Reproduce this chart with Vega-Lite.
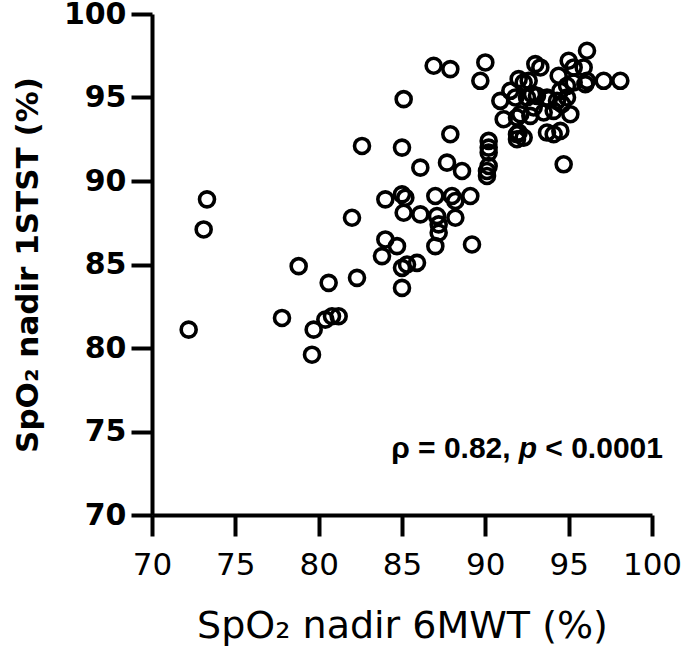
{
  "$schema": "https://vega.github.io/schema/vega-lite/v6.json",
  "width": 500,
  "height": 501,
  "autosize": "none",
  "padding": {"left": 152, "top": 14, "right": 33, "bottom": 138},
  "background": "white",
  "config": {
    "view": {"stroke": null},
    "font": "DejaVu Sans",
    "axis": {"grid": false, "domainColor": "#000", "tickColor": "#000", "labelColor": "#000", "titleColor": "#000", "domainWidth": 4, "tickWidth": 4, "tickSize": 21, "labelFont": "DejaVu Sans", "titleFont": "DejaVu Sans", "labelFlush": false, "labelOverlap": false}
  },
  "datasets": {
    "pts": [
      {"x": 72.2, "y": 81.1}, {"x": 73.1, "y": 87.1}, {"x": 73.3, "y": 88.9}, {"x": 77.8, "y": 81.8},
      {"x": 78.8, "y": 84.9}, {"x": 79.6, "y": 79.6}, {"x": 79.7, "y": 81.1}, {"x": 80.4, "y": 81.7},
      {"x": 80.8, "y": 81.9}, {"x": 81.2, "y": 81.9}, {"x": 80.6, "y": 83.9}, {"x": 82.0, "y": 87.8},
      {"x": 82.3, "y": 84.2}, {"x": 82.6, "y": 92.1}, {"x": 84.0, "y": 88.9}, {"x": 84.0, "y": 86.5},
      {"x": 83.8, "y": 85.5}, {"x": 84.7, "y": 86.1}, {"x": 85.0, "y": 89.2}, {"x": 85.2, "y": 89.0},
      {"x": 85.1, "y": 88.1}, {"x": 85.0, "y": 84.8}, {"x": 85.3, "y": 85.0}, {"x": 85.0, "y": 83.6},
      {"x": 85.0, "y": 92.0}, {"x": 85.1, "y": 94.9}, {"x": 85.9, "y": 85.1}, {"x": 86.1, "y": 88.0},
      {"x": 86.1, "y": 90.8}, {"x": 86.9, "y": 96.9}, {"x": 87.9, "y": 96.7}, {"x": 87.0, "y": 89.1},
      {"x": 87.1, "y": 87.9}, {"x": 87.2, "y": 87.4}, {"x": 87.2, "y": 86.9}, {"x": 87.0, "y": 86.1},
      {"x": 87.7, "y": 91.1}, {"x": 87.9, "y": 92.8}, {"x": 88.0, "y": 89.1}, {"x": 88.2, "y": 88.8},
      {"x": 88.2, "y": 87.8}, {"x": 88.6, "y": 90.6}, {"x": 89.1, "y": 89.1}, {"x": 89.2, "y": 86.2},
      {"x": 89.7, "y": 96.0}, {"x": 90.0, "y": 97.1}, {"x": 90.2, "y": 92.4}, {"x": 90.2, "y": 92.0},
      {"x": 90.2, "y": 91.7}, {"x": 90.2, "y": 90.9}, {"x": 90.1, "y": 90.3}, {"x": 90.1, "y": 90.6},
      {"x": 90.9, "y": 94.8}, {"x": 91.1, "y": 93.7}, {"x": 91.5, "y": 95.4}, {"x": 91.8, "y": 95.0},
      {"x": 91.9, "y": 93.8}, {"x": 91.9, "y": 92.8}, {"x": 91.9, "y": 92.5}, {"x": 92.0, "y": 96.1},
      {"x": 92.1, "y": 94.0}, {"x": 92.3, "y": 95.9}, {"x": 92.3, "y": 92.6}, {"x": 92.5, "y": 95.0},
      {"x": 92.6, "y": 96.0}, {"x": 92.7, "y": 93.9}, {"x": 92.8, "y": 95.2}, {"x": 92.9, "y": 94.4},
      {"x": 93.0, "y": 97.0}, {"x": 93.1, "y": 95.1}, {"x": 93.3, "y": 96.8}, {"x": 93.5, "y": 94.1},
      {"x": 93.7, "y": 95.0}, {"x": 93.7, "y": 92.9}, {"x": 93.8, "y": 94.9}, {"x": 94.1, "y": 94.2},
      {"x": 94.1, "y": 92.8}, {"x": 94.3, "y": 94.8}, {"x": 94.4, "y": 96.3}, {"x": 94.5, "y": 95.4},
      {"x": 94.5, "y": 93.0}, {"x": 94.6, "y": 94.6}, {"x": 94.7, "y": 91.0}, {"x": 94.9, "y": 95.7},
      {"x": 94.9, "y": 95.0}, {"x": 95.0, "y": 97.2}, {"x": 95.1, "y": 94.0}, {"x": 95.3, "y": 96.8},
      {"x": 95.3, "y": 95.9}, {"x": 95.9, "y": 96.8}, {"x": 96.0, "y": 95.8}, {"x": 96.1, "y": 96.0},
      {"x": 96.1, "y": 97.8}, {"x": 97.1, "y": 96.0}, {"x": 98.1, "y": 96.0}, {"x": 92.0, "y": 92.9}
    ],
    "ann": [
      {"x": 84.35, "y": 73.4, "t": "ρ = 0.82,"},
      {"x": 93.6, "y": 73.4, "t": "< 0.0001"}
    ],
    "annp": [
      {"x": 92.0, "y": 73.4, "t": "p"}
    ]
  },
  "layer": [
    {
      "data": {"name": "pts"},
      "mark": {"type": "point", "shape": "circle", "filled": false, "stroke": "#000", "strokeWidth": 3.6, "size": 225, "opacity": 1},
      "encoding": {
        "x": {"field": "x", "type": "quantitative", "scale": {"domain": [70, 100], "nice": false, "zero": false},
          "axis": {"values": [70, 75, 80, 85, 90, 95, 100], "labelFontSize": 31, "labelFontWeight": "normal", "labelPadding": 14,
            "title": "SpO₂ nadir 6MWT (%)", "titleFontSize": 38, "titleFontWeight": "normal", "titlePadding": 27}},
        "y": {"field": "y", "type": "quantitative", "scale": {"domain": [70, 100], "nice": false, "zero": false},
          "axis": {"values": [70, 75, 80, 85, 90, 95, 100], "labelFontSize": 30, "labelFontWeight": "bold", "labelPadding": 5,
            "title": "SpO₂ nadir 1STST (%)", "titleFontSize": 31, "titleFontWeight": "bold", "titlePadding": 19}}
      }
    },
    {
      "data": {"name": "ann"},
      "mark": {"type": "text", "align": "left", "baseline": "alphabetic", "font": "Liberation Sans", "fontSize": 30, "fontWeight": "bold", "color": "#000"},
      "encoding": {
        "x": {"field": "x", "type": "quantitative"},
        "y": {"field": "y", "type": "quantitative"},
        "text": {"field": "t"}
      }
    },
    {
      "data": {"name": "annp"},
      "mark": {"type": "text", "align": "left", "baseline": "alphabetic", "font": "Liberation Sans", "fontSize": 30, "fontWeight": "bold", "fontStyle": "italic", "color": "#000"},
      "encoding": {
        "x": {"field": "x", "type": "quantitative"},
        "y": {"field": "y", "type": "quantitative"},
        "text": {"field": "t"}
      }
    }
  ]
}
